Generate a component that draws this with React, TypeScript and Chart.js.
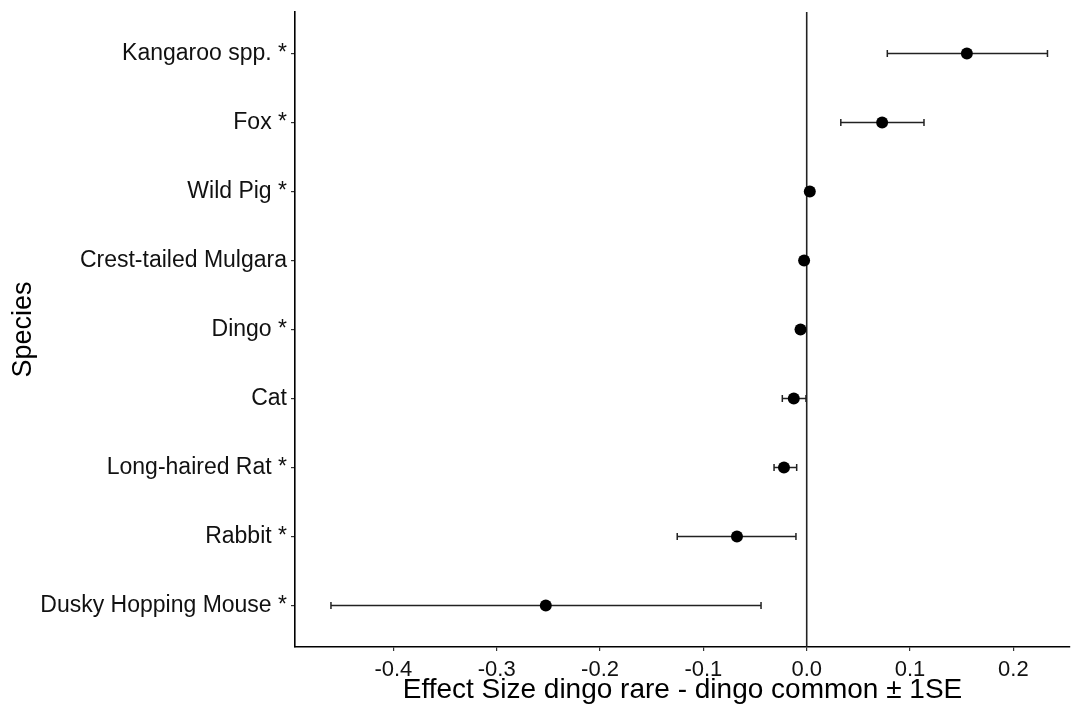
import React, { useEffect, useRef } from 'react';
import { Chart, registerables } from 'chart.js';

Chart.register(...registerables);

// Top to bottom as displayed
const species = [
  'Kangaroo spp. *',
  'Fox *',
  'Wild Pig *',
  'Crest-tailed Mulgara',
  'Dingo *',
  'Cat',
  'Long-haired Rat *',
  'Rabbit *',
  'Dusky Hopping Mouse *',
];
const effectSize = [0.155, 0.073, 0.003, -0.0025, -0.006, -0.0125, -0.022, -0.0675, -0.2525];
const seLower = [0.078, 0.033, 0.001, -0.004, -0.008, -0.0236, -0.0316, -0.1253, -0.4604];
const seUpper = [0.233, 0.1135, 0.005, -0.001, -0.004, -0.0007, -0.0097, -0.0104, -0.0442];
const xTickValues = [-0.4, -0.3, -0.2, -0.1, 0, 0.1, 0.2];
const xTickLabels = ['-0.4', '-0.3', '-0.2', '-0.1', '0.0', '0.1', '0.2'];

const FONT = '"Liberation Sans", Arial, Helvetica, sans-serif';

const yOf = (i: number) => species.length - i;

const errorBarPlugin = {
  id: 'errorBars',
  beforeDatasetsDraw(chart: any) {
    const { ctx, scales, chartArea } = chart;
    const xs = scales.x;
    const ys = scales.y;
    ctx.save();
    // vertical reference line at zero
    const x0 = xs.getPixelForValue(0);
    ctx.strokeStyle = '#222';
    ctx.lineWidth = 1.6;
    ctx.beginPath();
    ctx.moveTo(x0, chartArea.top);
    ctx.lineTo(x0, chartArea.bottom);
    ctx.stroke();
    // error bars
    ctx.strokeStyle = '#222';
    ctx.lineWidth = 1.5;
    species.forEach((_, i) => {
      const y = ys.getPixelForValue(yOf(i));
      const xl = xs.getPixelForValue(seLower[i]);
      const xr = xs.getPixelForValue(seUpper[i]);
      ctx.beginPath();
      ctx.moveTo(xl, y);
      ctx.lineTo(xr, y);
      ctx.moveTo(xl, y - 3.5);
      ctx.lineTo(xl, y + 3.5);
      ctx.moveTo(xr, y - 3.5);
      ctx.lineTo(xr, y + 3.5);
      ctx.stroke();
    });
    ctx.restore();
  },
};

export default function App() {
  const ref = useRef<HTMLCanvasElement | null>(null);
  useEffect(() => {
    if (!ref.current) return;
    const chart = new Chart(ref.current, {
      type: 'scatter',
      data: {
        datasets: [
          {
            data: species.map((_, i) => ({ x: effectSize[i], y: yOf(i) })),
            backgroundColor: '#000',
            borderColor: '#000',
            pointRadius: 6,
            pointHoverRadius: 6,
            borderWidth: 0,
          },
        ],
      },
      options: {
        animation: false,
        responsive: true,
        maintainAspectRatio: false,
        layout: { autoPadding: false, padding: { left: 0, right: 3, top: 12, bottom: 0 } },
        plugins: {
          legend: { display: false },
          tooltip: { enabled: false },
        },
        scales: {
          x: {
            type: 'linear',
            min: -0.4952,
            max: 0.2548,
            afterBuildTicks: (scale: any) => {
              scale.ticks = xTickValues.map((v) => ({ value: v }));
            },
            afterFit: (scale: any) => {
              scale.height = 60;
              scale.paddingLeft = 0;
              scale.paddingRight = 0;
            },
            grid: {
              drawOnChartArea: false,
              drawTicks: true,
              tickLength: 4,
              color: '#333',
              lineWidth: 1.2,
            },
            border: { display: true, color: '#000', width: 1.6 },
            ticks: {
              padding: 6,
              color: '#111',
              font: { family: FONT, size: 22 },
              maxRotation: 0,
              autoSkip: false,
              callback: (v: any) => {
                const idx = xTickValues.findIndex((t) => Math.abs(t - Number(v)) < 1e-9);
                return idx >= 0 ? xTickLabels[idx] : '';
              },
            },
            title: {
              display: true,
              text: 'Effect Size dingo rare - dingo common ± 1SE',
              color: '#000',
              font: { family: FONT, size: 28 },
              padding: { top: 0, bottom: 0 },
            },
          },
          y: {
            type: 'linear',
            min: 0.4,
            max: 9.6,
            afterBuildTicks: (scale: any) => {
              scale.ticks = species.map((_, i) => ({ value: yOf(i) }));
            },
            afterFit: (scale: any) => {
              scale.width = 295;
              scale.paddingTop = 0;
              scale.paddingBottom = 0;
            },
            grid: {
              drawOnChartArea: false,
              drawTicks: true,
              tickLength: 4,
              color: '#333',
              lineWidth: 1.2,
            },
            border: { display: true, color: '#000', width: 1.6 },
            ticks: {
              padding: 4,
              color: '#111',
              font: { family: FONT, size: 23 },
              autoSkip: false,
              callback: (v: any) => {
                const i = species.length - Math.round(Number(v));
                return species[i] ?? '';
              },
            },
            title: {
              display: true,
              text: 'Species',
              color: '#000',
              font: { family: FONT, size: 27 },
              padding: { top: 7, bottom: 0 },
            },
          },
        },
      },
      plugins: [errorBarPlugin],
    });
    return () => chart.destroy();
  }, []);
  return (
    <div style={{ position: 'fixed', left: 0, top: 0, width: 1073, height: 707, background: '#fff' }}>
      <canvas ref={ref} />
    </div>
  );
}
